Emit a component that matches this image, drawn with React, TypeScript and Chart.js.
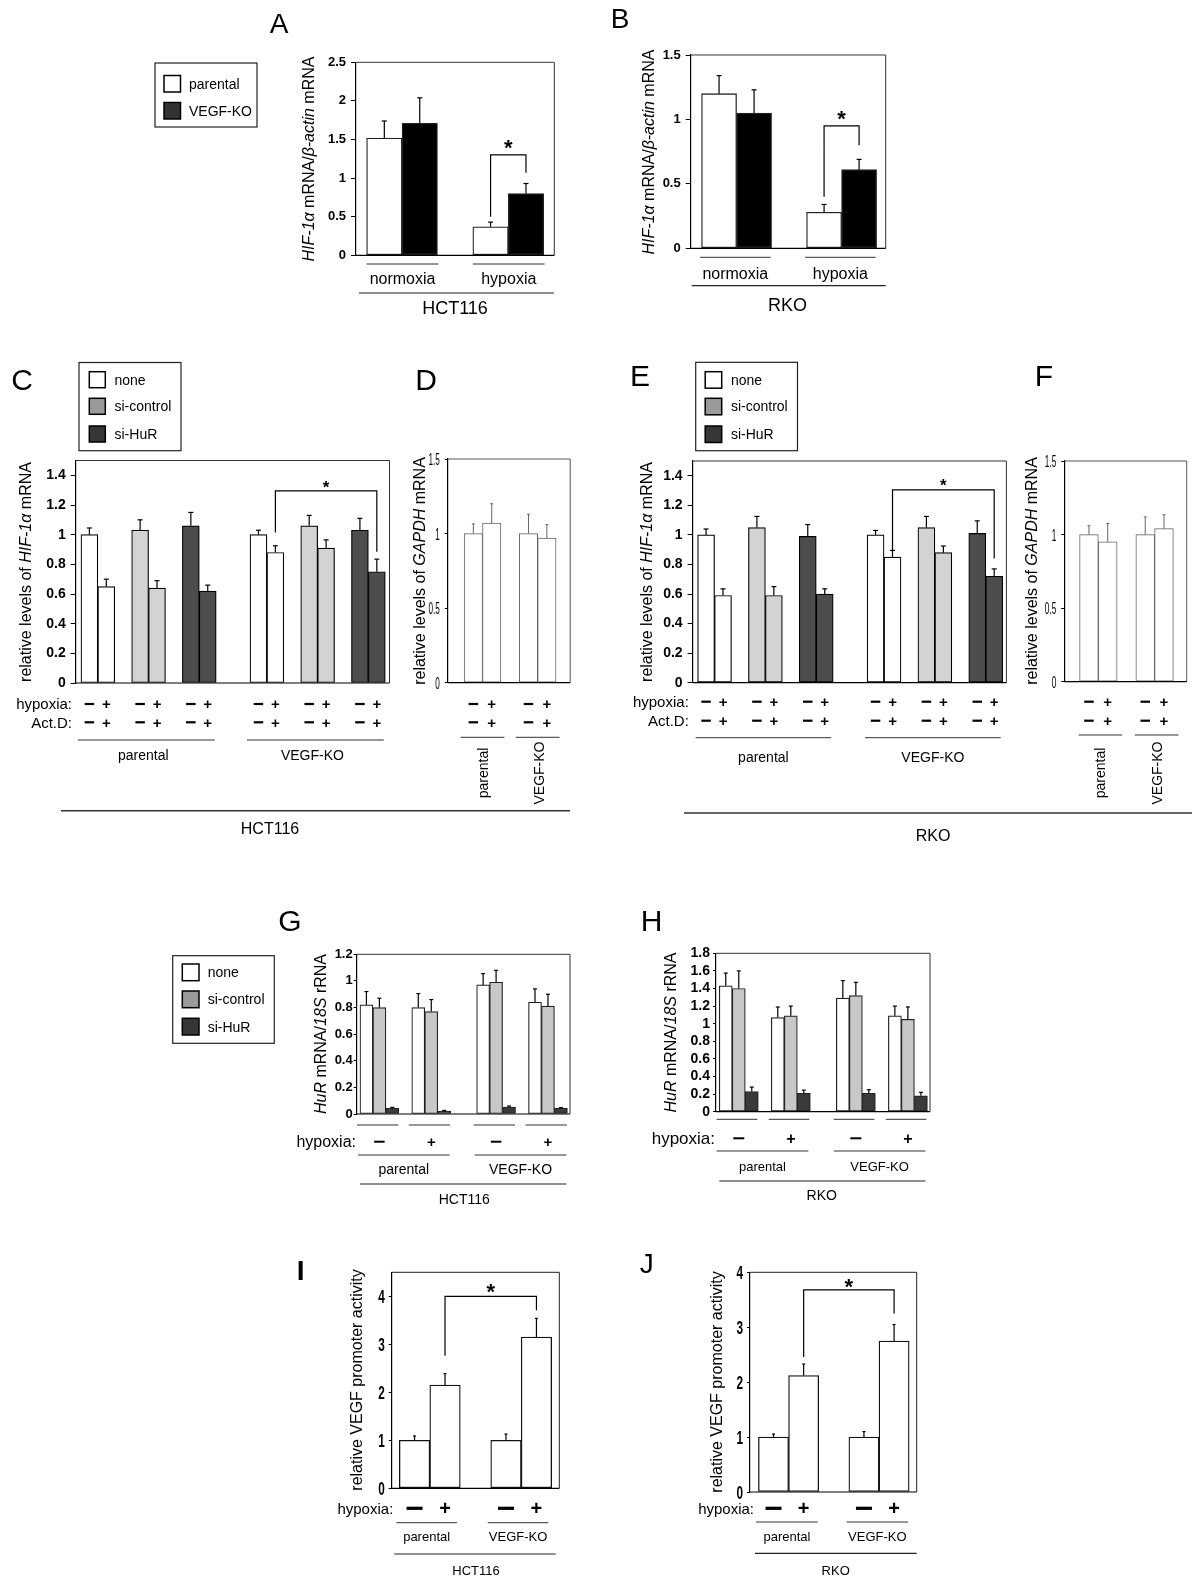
import React, { useEffect, useRef } from 'react';
import { Chart, registerables } from 'chart.js';

Chart.register(...registerables);

const FONT = '"Liberation Sans", Arial, Helvetica, sans-serif';

// ================= DATA =================
const CELL_LINES = ['parental', 'VEGF-KO'];
const OXYGEN = ['normoxia', 'hypoxia'];
const TREATMENTS = ['none', 'si-control', 'si-HuR'];

// A (HCT116) and B (RKO): order normoxia-parental, normoxia-KO, hypoxia-parental, hypoxia-KO
const A_VALUES = [1.52, 1.71, 0.37, 0.8];
const A_SEM = [0.22, 0.33, 0.06, 0.13];
const B_VALUES = [1.2, 1.05, 0.28, 0.61];
const B_SEM = [0.14, 0.18, 0.06, 0.08];
const AB_CELL = ['parental', 'VEGF-KO', 'parental', 'VEGF-KO'];

// C (HCT116) and E (RKO): HIF-1a mRNA after Act.D
const CE_TREAT = ['none', 'none', 'si-control', 'si-control', 'si-HuR', 'si-HuR', 'none', 'none', 'si-control', 'si-control', 'si-HuR', 'si-HuR'];
const CE_HYPOXIA = ['-', '+', '-', '+', '-', '+', '-', '+', '-', '+', '-', '+'];
const CE_ACTD = ['-', '+', '-', '+', '-', '+', '-', '+', '-', '+', '-', '+'];
const C_VALUES = [1.0, 0.65, 1.03, 0.64, 1.06, 0.62, 1.0, 0.88, 1.06, 0.91, 1.03, 0.75];
const C_SEM = [0.045, 0.05, 0.07, 0.05, 0.09, 0.04, 0.03, 0.045, 0.07, 0.055, 0.08, 0.085];
const E_VALUES = [1.0, 0.59, 1.05, 0.59, 0.99, 0.6, 1.0, 0.85, 1.05, 0.88, 1.01, 0.72];
const E_SEM = [0.04, 0.045, 0.075, 0.06, 0.08, 0.035, 0.03, 0.045, 0.075, 0.045, 0.085, 0.05];

// D (HCT116) and F (RKO): GAPDH mRNA
const DF_HYPOXIA = ['-', '+', '-', '+'];
const DF_ACTD = ['-', '+', '-', '+'];
const D_VALUES = [1.0, 1.07, 1.0, 0.97];
const D_SEM = [0.065, 0.13, 0.13, 0.09];
const F_VALUES = [1.0, 0.95, 1.0, 1.04];
const F_SEM = [0.06, 0.125, 0.12, 0.095];

// G (HCT116) and H (RKO): HuR mRNA / 18S rRNA
const GH_TREAT = ['none', 'si-control', 'si-HuR', 'none', 'si-control', 'si-HuR', 'none', 'si-control', 'si-HuR', 'none', 'si-control', 'si-HuR'];
const GH_HYPOXIA = ['-', '+', '-', '+'];
const G_VALUES = [0.82, 0.8, 0.043, 0.8, 0.77, 0.022, 0.97, 0.99, 0.052, 0.84, 0.81, 0.043];
const G_SEM = [0.1, 0.07, 0.007, 0.105, 0.09, 0.005, 0.085, 0.09, 0.008, 0.1, 0.09, 0.005];
const H_VALUES = [1.43, 1.4, 0.23, 1.07, 1.09, 0.21, 1.29, 1.32, 0.21, 1.09, 1.05, 0.18];
const H_SEM = [0.145, 0.2, 0.05, 0.12, 0.11, 0.035, 0.2, 0.15, 0.04, 0.11, 0.14, 0.04];

// I (HCT116) and J (RKO): VEGF promoter activity
const IJ_HYPOXIA = ['-', '+', '-', '+'];
const I_VALUES = [1.0, 2.15, 1.0, 3.15];
const I_SEM = [0.09, 0.24, 0.13, 0.39];
const J_VALUES = [1.0, 2.12, 1.0, 2.75];
const J_SEM = [0.055, 0.21, 0.1, 0.3];

// ================= STYLE =================
const AB_FILL: Record<string, string> = { parental: '#ffffff', 'VEGF-KO': '#000000' };
const AB_SWATCH: Record<string, string> = { parental: '#ffffff', 'VEGF-KO': '#333333' };
const CE_FILL: Record<string, string> = { none: '#ffffff', 'si-control': '#d3d3d3', 'si-HuR': '#4d4d4d' };
const GH_FILL: Record<string, string> = { none: '#ffffff', 'si-control': '#c8c8c8', 'si-HuR': '#3a3a3a' };
const SWATCH3: Record<string, string> = { none: '#ffffff', 'si-control': '#9a9a9a', 'si-HuR': '#363636' };

function slotPositions(groups: number[][], innerGap: number, outerGap: number): number[] {
  const out: number[] = [];
  let cur = 0;
  groups.forEach((cluster, gi) => {
    if (gi > 0) cur += outerGap;
    cluster.forEach((n, ci) => {
      if (ci > 0) cur += innerGap;
      for (let k = 0; k < n; k++) out.push(cur++);
    });
  });
  return out;
}

const POS_PAIRS = slotPositions([[2], [2]], 1, 1);
const POS_CE = slotPositions([[2, 2, 2], [2, 2, 2]], 1, 2);
const POS_GH = slotPositions([[3, 3], [3, 3]], 1, 2);

const fmtTick = (v: number) => String(Math.round(Number(v) * 1000) / 1000);

// ================= DRAW HELPERS =================
type Ctx = CanvasRenderingContext2D;

function line(ctx: Ctx, x1: number, y1: number, x2: number, y2: number, w = 1, c = '#000') {
  ctx.beginPath();
  ctx.strokeStyle = c;
  ctx.lineWidth = w;
  ctx.moveTo(x1, y1);
  ctx.lineTo(x2, y2);
  ctx.stroke();
}

function text(ctx: Ctx, s: string, x: number, y: number, size: number, o: any = {}) {
  ctx.font = `${o.italic ? 'italic ' : ''}${o.bold ? 'bold ' : ''}${size}px ${FONT}`;
  ctx.fillStyle = o.color || '#000';
  ctx.textAlign = o.align || 'center';
  ctx.textBaseline = 'alphabetic';
  ctx.fillText(s, x, y + size * 0.35);
}

function rich(ctx: Ctx, segs: [string, boolean][], x: number, y: number, size: number, rotate = true) {
  ctx.save();
  ctx.translate(x, y);
  if (rotate) ctx.rotate(-Math.PI / 2);
  const fonts = segs.map(([, it]) => `${it ? 'italic ' : ''}${size}px ${FONT}`);
  let total = 0;
  const widths = segs.map(([t], i) => {
    ctx.font = fonts[i];
    const w = ctx.measureText(t).width;
    total += w;
    return w;
  });
  let cur = -total / 2;
  ctx.fillStyle = '#000';
  ctx.textAlign = 'left';
  ctx.textBaseline = 'alphabetic';
  segs.forEach(([t], i) => {
    ctx.font = fonts[i];
    ctx.fillText(t, cur, size * 0.35);
    cur += widths[i];
  });
  ctx.restore();
}

function sign(ctx: Ctx, s: string, x: number, y: number, dashW: number, dashT: number, plusSize: number) {
  if (s === '-') {
    ctx.fillStyle = '#000';
    ctx.fillRect(x - dashW / 2, y - dashT / 2, dashW, dashT);
  } else {
    text(ctx, '+', x, y, plusSize, { bold: true });
  }
}

function bracket(ctx: Ctx, x1: number, x2: number, yTop: number, y1: number, y2: number, starY: number, starSize: number) {
  ctx.beginPath();
  ctx.strokeStyle = '#000';
  ctx.lineWidth = 1.2;
  ctx.moveTo(x1, y1);
  ctx.lineTo(x1, yTop);
  ctx.lineTo(x2, yTop);
  ctx.lineTo(x2, y2);
  ctx.stroke();
  ctx.font = `bold ${starSize}px ${FONT}`;
  ctx.fillStyle = '#000';
  ctx.textAlign = 'center';
  ctx.textBaseline = 'alphabetic';
  ctx.fillText('*', (x1 + x2) / 2, starY + starSize * 0.57);
}

function legend(ctx: Ctx, box: number[], labels: string[], fills: string[], swX: number, sw: number, rows: number[], textX: number, size: number) {
  ctx.lineWidth = 1.2;
  ctx.strokeStyle = '#222';
  ctx.strokeRect(box[0], box[1], box[2] - box[0], box[3] - box[1]);
  labels.forEach((lab, i) => {
    ctx.fillStyle = fills[i];
    ctx.fillRect(swX, rows[i], sw, sw);
    ctx.lineWidth = 1.5;
    ctx.strokeStyle = '#000';
    ctx.strokeRect(swX, rows[i], sw, sw);
    text(ctx, lab, textX, rows[i] + sw / 2, size, { align: 'left' });
  });
}

type Helpers = { ctx: Ctx; px: (v: number) => number; py: (v: number) => number; pos: number[] };

type Spec = {
  key: string;
  cx: number; cy: number; cw: number; ch: number;
  area: number[];
  xRange: number[];
  yMax: number; yStep: number;
  tickFont: any;
  tickLen: number; tickPad: number;
  narrow?: { size: number; bold: boolean; sx: number };
  positions: number[]; values: number[]; sem: number[]; colors: string[];
  borderColor: string; borderWidth: number;
  errColor: string; errWidth: number; cap: number;
  frameColor: string;
  extras: (h: Helpers) => void;
};

// ================= PANELS =================
const SPECS: Spec[] = [
  {
    key: 'A', cx: 140, cy: 0, cw: 450, ch: 330,
    area: [356, 62.3, 554.3, 255.3], xRange: [-0.8, 4.8], yMax: 2.5, yStep: 0.5,
    tickFont: { family: FONT, size: 13, weight: 'bold' }, tickLen: 5, tickPad: 5,
    positions: POS_PAIRS, values: A_VALUES, sem: A_SEM, colors: AB_CELL.map((c) => AB_FILL[c]),
    borderColor: '#222', borderWidth: 1.3, errColor: '#000', errWidth: 1.2, cap: 5, frameColor: '#333',
    extras: ({ ctx, px, py, pos }) => {
      rich(ctx, [['HIF-1\u03b1', true], [' mRNA/', false], ['\u03b2-actin', true], [' mRNA', false]], 308, 159, 16);
      bracket(ctx, px(pos[2]), px(pos[3]), py(1.3), py(0.5), py(1.07), py(1.3) - 12, 22);
      OXYGEN.forEach((g, k) => {
        const x1 = px(pos[2 * k] - 0.5), x2 = px(pos[2 * k + 1] + 0.5) + 1;
        line(ctx, x1, 264, x2, 264, 1, '#333');
        text(ctx, g, (x1 + x2) / 2, 278.5, 16);
      });
      line(ctx, 359, 293, 554, 293, 1.2, '#222');
      text(ctx, 'HCT116', 455, 308, 18);
      legend(ctx, [155, 63, 257, 127], CELL_LINES, CELL_LINES.map((c) => AB_SWATCH[c]), 164, 16.5, [75.5, 102.5], 189, 14);
      text(ctx, 'A', 279, 23, 28);
    },
  },
  {
    key: 'B', cx: 600, cy: 0, cw: 300, ch: 330,
    area: [690.7, 55, 885.7, 248.3], xRange: [-0.81, 4.76], yMax: 1.5, yStep: 0.5,
    tickFont: { family: FONT, size: 13, weight: 'bold' }, tickLen: 5, tickPad: 5,
    positions: POS_PAIRS, values: B_VALUES, sem: B_SEM, colors: AB_CELL.map((c) => AB_FILL[c]),
    borderColor: '#222', borderWidth: 1.3, errColor: '#000', errWidth: 1.2, cap: 5, frameColor: '#333',
    extras: ({ ctx, px, py, pos }) => {
      rich(ctx, [['HIF-1\u03b1', true], [' mRNA/', false], ['\u03b2-actin', true], [' mRNA', false]], 648, 152, 16);
      bracket(ctx, px(pos[2]), px(pos[3]), py(0.95), py(0.4), py(0.8), py(0.95) - 12.6, 22);
      OXYGEN.forEach((g, k) => {
        const x1 = px(pos[2 * k] - 0.5) - 1.5, x2 = px(pos[2 * k + 1] + 0.5) - 1;
        line(ctx, x1, 257.3, x2, 257.3, 1, '#333');
        text(ctx, g, (x1 + x2) / 2, 273, 16);
      });
      line(ctx, 691.7, 285.7, 885.7, 285.7, 1.2, '#222');
      text(ctx, 'RKO', 787.5, 305, 18);
      text(ctx, 'B', 620, 18, 28);
    },
  },
  {
    key: 'C', cx: 0, cy: 340, cw: 600, ch: 510,
    area: [75.7, 460.5, 389.5, 683], xRange: [-0.81, 17.75], yMax: 1.5, yStep: 0.2,
    tickFont: { family: FONT, size: 14, weight: 'bold' }, tickLen: 5, tickPad: 5,
    positions: POS_CE, values: C_VALUES, sem: C_SEM, colors: CE_TREAT.map((t) => CE_FILL[t]),
    borderColor: '#000', borderWidth: 1.2, errColor: '#000', errWidth: 1.2, cap: 5, frameColor: '#333',
    extras: ({ ctx, px, py, pos }) => {
      rich(ctx, [['relative levels of ', false], ['HIF-1\u03b1', true], [' mRNA', false]], 25, 572, 16);
      CE_HYPOXIA.forEach((s, i) => sign(ctx, s, px(pos[i]), 704, 9.5, 2.2, 15));
      CE_ACTD.forEach((s, i) => sign(ctx, s, px(pos[i]), 722.3, 9.5, 2.2, 15));
      text(ctx, 'hypoxia:', 72, 704, 15, { align: 'right' });
      text(ctx, 'Act.D:', 72, 722.3, 15, { align: 'right' });
      CELL_LINES.forEach((c, k) => {
        const x1 = px(pos[6 * k] - 0.5) - 3, x2 = px(pos[6 * k + 5] + 0.5) - 1.5;
        line(ctx, x1, 740, x2, 740, 1, '#333');
        text(ctx, c, (x1 + x2) / 2 - 3, 755, 14);
      });
      line(ctx, 61, 810.7, 570, 810.7, 1.5, '#333');
      text(ctx, 'HCT116', 270, 828, 16);
      bracket(ctx, px(pos[7]), px(pos[11]), py(1.295), py(1.015), py(0.884), py(1.295) - 8, 17);
      legend(ctx, [79, 362.5, 181, 450.7], TREATMENTS, TREATMENTS.map((t) => SWATCH3[t]), 89.3, 16, [371.7, 398.3, 426], 114.5, 14);
      text(ctx, 'C', 22, 379, 30);
    },
  },
  {
    key: 'D', cx: 400, cy: 340, cw: 200, ch: 500,
    area: [447.8, 459, 570.2, 682.7], xRange: [-1.39, 5.27], yMax: 1.5, yStep: 0.5,
    tickFont: { family: FONT, size: 14 }, tickLen: 3, tickPad: 5,
    narrow: { size: 17, bold: false, sx: 0.48 },
    positions: POS_PAIRS, values: D_VALUES, sem: D_SEM, colors: D_VALUES.map(() => '#ffffff'),
    borderColor: '#666', borderWidth: 1, errColor: '#666', errWidth: 1, cap: 3, frameColor: '#555',
    extras: ({ ctx, px, pos }) => {
      rich(ctx, [['relative levels of ', false], ['GAPDH', true], [' mRNA', false]], 419.8, 571, 16);
      DF_HYPOXIA.forEach((s, i) => sign(ctx, s, px(pos[i]), 704, 9.5, 2.2, 15));
      DF_ACTD.forEach((s, i) => sign(ctx, s, px(pos[i]), 722.3, 9.5, 2.2, 15));
      CELL_LINES.forEach((c, k) => {
        const x1 = px(pos[2 * k] - 0.5) - 3.5, x2 = px(pos[2 * k + 1] + 0.5) + 3.5;
        line(ctx, x1, 737.3, x2, 737.3, 1, '#333');
        rich(ctx, [[c, false]], (x1 + x2) / 2 + 1, 773, 14);
      });
      text(ctx, 'D', 426, 379, 30);
    },
  },
  {
    key: 'E', cx: 600, cy: 340, cw: 600, ch: 510,
    area: [692.6, 461, 1006.4, 682.7], xRange: [-0.795, 17.72], yMax: 1.5, yStep: 0.2,
    tickFont: { family: FONT, size: 14, weight: 'bold' }, tickLen: 5, tickPad: 5,
    positions: POS_CE, values: E_VALUES, sem: E_SEM, colors: CE_TREAT.map((t) => CE_FILL[t]),
    borderColor: '#000', borderWidth: 1.2, errColor: '#000', errWidth: 1.2, cap: 5, frameColor: '#333',
    extras: ({ ctx, px, py, pos }) => {
      rich(ctx, [['relative levels of ', false], ['HIF-1\u03b1', true], [' mRNA', false]], 646, 572, 16);
      CE_HYPOXIA.forEach((s, i) => sign(ctx, s, px(pos[i]), 701.7, 9.5, 2.2, 15));
      CE_ACTD.forEach((s, i) => sign(ctx, s, px(pos[i]), 720.7, 9.5, 2.2, 15));
      text(ctx, 'hypoxia:', 688.8, 701.7, 15, { align: 'right' });
      text(ctx, 'Act.D:', 688.8, 720.7, 15, { align: 'right' });
      CELL_LINES.forEach((c, k) => {
        const x1 = px(pos[6 * k] - 0.5) - 2, x2 = px(pos[6 * k + 5] + 0.5) - 2;
        line(ctx, x1, 737.7, x2, 737.7, 1, '#333');
        text(ctx, c, (x1 + x2) / 2, 756.7, 14);
      });
      line(ctx, 684, 813, 1192, 813, 1.5, '#333');
      text(ctx, 'RKO', 933, 835, 16);
      bracket(ctx, px(pos[7]), px(pos[11]), py(1.305), py(0.886), py(0.84), py(1.305) - 9, 17);
      legend(ctx, [695.7, 362.3, 797.5, 450.7], TREATMENTS, TREATMENTS.map((t) => SWATCH3[t]), 705.2, 16.5, [371.7, 398.3, 426], 730.9, 14);
      text(ctx, 'E', 640, 375, 30);
    },
  },
  {
    key: 'F', cx: 1000, cy: 340, cw: 200, ch: 500,
    area: [1064.2, 461, 1186.7, 681.7], xRange: [-1.32, 5.21], yMax: 1.5, yStep: 0.5,
    tickFont: { family: FONT, size: 14 }, tickLen: 3, tickPad: 5,
    narrow: { size: 17, bold: false, sx: 0.48 },
    positions: POS_PAIRS, values: F_VALUES, sem: F_SEM, colors: F_VALUES.map(() => '#ffffff'),
    borderColor: '#666', borderWidth: 1, errColor: '#666', errWidth: 1, cap: 3, frameColor: '#555',
    extras: ({ ctx, px, pos }) => {
      rich(ctx, [['relative levels of ', false], ['GAPDH', true], [' mRNA', false]], 1031.3, 571, 16);
      DF_HYPOXIA.forEach((s, i) => sign(ctx, s, px(pos[i]), 701.7, 9.5, 2.2, 15));
      DF_ACTD.forEach((s, i) => sign(ctx, s, px(pos[i]), 720.7, 9.5, 2.2, 15));
      CELL_LINES.forEach((c, k) => {
        const x1 = px(pos[2 * k] - 0.5) - 1, x2 = px(pos[2 * k + 1] + 0.5) + 5;
        line(ctx, x1, 735, x2, 735, 1, '#333');
        rich(ctx, [[c, false]], (x1 + x2) / 2, 773, 14);
      });
      text(ctx, 'F', 1044, 375, 30);
    },
  },
  {
    key: 'G', cx: 150, cy: 880, cw: 450, ch: 340,
    area: [356.7, 954.3, 570, 1114], xRange: [-0.75, 15.7], yMax: 1.2, yStep: 0.2,
    tickFont: { family: FONT, size: 13, weight: 'bold' }, tickLen: 3, tickPad: 1,
    positions: POS_GH, values: G_VALUES, sem: G_SEM, colors: GH_TREAT.map((t) => GH_FILL[t]),
    borderColor: '#222', borderWidth: 1.2, errColor: '#000', errWidth: 1.2, cap: 4, frameColor: '#333',
    extras: ({ ctx, px, pos }) => {
      rich(ctx, [['HuR', true], [' mRNA/', false], ['18S', true], [' rRNA', false]], 320, 1034, 16);
      GH_HYPOXIA.forEach((s, k) => {
        const x1 = px(pos[3 * k] - 0.5) - 3, x2 = px(pos[3 * k + 2] + 0.5) - 0.5;
        line(ctx, x1, 1125, x2, 1125, 1, '#333');
        sign(ctx, s, px(pos[3 * k + 1]), 1141.7, 10.5, 2, 15);
      });
      text(ctx, 'hypoxia:', 356, 1141.7, 16, { align: 'right' });
      CELL_LINES.forEach((c, k) => {
        const x1 = px(pos[6 * k] - 0.5) - 2, x2 = px(pos[6 * k + 5] + 0.5) - 1;
        line(ctx, x1, 1155, x2, 1155, 1, '#333');
        text(ctx, c, (x1 + x2) / 2, 1169.3, 14);
      });
      line(ctx, px(pos[0] - 0.5), 1184, px(pos[11] + 0.5) - 1, 1184, 1.2, '#222');
      text(ctx, 'HCT116', 464.3, 1199, 14);
      legend(ctx, [172.7, 955.7, 274.3, 1043.3], TREATMENTS, TREATMENTS.map((t) => SWATCH3[t]), 182.3, 16.7, [964, 991, 1018.3], 207.7, 14);
      text(ctx, 'G', 290, 920, 30);
    },
  },
  {
    key: 'H', cx: 600, cy: 880, cw: 360, ch: 340,
    area: [716, 953.3, 930, 1111.7], xRange: [-0.75, 15.7], yMax: 1.8, yStep: 0.2,
    tickFont: { family: FONT, size: 14, weight: 'bold' }, tickLen: 3, tickPad: 3,
    positions: POS_GH, values: H_VALUES, sem: H_SEM, colors: GH_TREAT.map((t) => GH_FILL[t]),
    borderColor: '#222', borderWidth: 1.2, errColor: '#000', errWidth: 1.2, cap: 4, frameColor: '#333',
    extras: ({ ctx, px, pos }) => {
      rich(ctx, [['HuR', true], [' mRNA/', false], ['18S', true], [' rRNA', false]], 670, 1032.5, 16);
      GH_HYPOXIA.forEach((s, k) => {
        const x1 = px(pos[3 * k] - 0.5) - 2.6, x2 = px(pos[3 * k + 2] + 0.5) - 1;
        line(ctx, x1, 1119.3, x2, 1119.3, 1, '#333');
        sign(ctx, s, px(pos[3 * k + 1]), 1138.3, 11, 2, 16);
      });
      text(ctx, 'hypoxia:', 715, 1138.3, 17, { align: 'right' });
      CELL_LINES.forEach((c, k) => {
        const x1 = px(pos[6 * k] - 0.5) - 2.6, x2 = px(pos[6 * k + 5] + 0.5) - 2;
        line(ctx, x1, 1151, x2, 1151, 1, '#333');
        text(ctx, c, (x1 + x2) / 2, 1166.7, 13);
      });
      line(ctx, px(pos[0] - 0.5), 1181, px(pos[11] + 0.5) - 2, 1181, 1.2, '#222');
      text(ctx, 'RKO', 821.7, 1195, 14);
      text(ctx, 'H', 651.7, 920, 30);
    },
  },
  {
    key: 'I', cx: 260, cy: 1230, cw: 340, ch: 349,
    area: [391.7, 1272.3, 559.3, 1488.3], xRange: [-0.75, 4.75], yMax: 4.5, yStep: 1,
    tickFont: { family: FONT, size: 15, weight: 'bold' }, tickLen: 3, tickPad: 4,
    narrow: { size: 19, bold: true, sx: 0.62 },
    positions: POS_PAIRS, values: I_VALUES, sem: I_SEM, colors: I_VALUES.map(() => '#ffffff'),
    borderColor: '#111', borderWidth: 1.3, errColor: '#000', errWidth: 1.2, cap: 3, frameColor: '#222',
    extras: ({ ctx, px, py, pos }) => {
      rich(ctx, [['relative VEGF promoter activity', false]], 356.7, 1380, 16);
      bracket(ctx, px(pos[1]), px(pos[3]), py(4.0), py(2.76), py(3.71), py(4.0) - 10, 22);
      IJ_HYPOXIA.forEach((s, i) => sign(ctx, s, px(pos[i]), 1508.3, 16, 3.2, 20));
      text(ctx, 'hypoxia:', 393.3, 1508.3, 15, { align: 'right' });
      CELL_LINES.forEach((c, k) => {
        const x1 = px(pos[2 * k] - 0.5) - 3, x2 = px(pos[2 * k + 1] + 0.5) - 3.3;
        line(ctx, x1, 1522.7, x2, 1522.7, 1, '#333');
        text(ctx, c, (x1 + x2) / 2, 1536.7, 13);
      });
      line(ctx, 394.3, 1554, 555.7, 1554, 1.2, '#222');
      text(ctx, 'HCT116', 476, 1570, 13);
      text(ctx, 'I', 300.7, 1270, 28, { bold: true });
    },
  },
  {
    key: 'J', cx: 620, cy: 1230, cw: 340, ch: 349,
    area: [750, 1272.3, 916.7, 1492], xRange: [-0.78, 4.75], yMax: 4, yStep: 1,
    tickFont: { family: FONT, size: 15, weight: 'bold' }, tickLen: 3, tickPad: 4,
    narrow: { size: 19, bold: true, sx: 0.62 },
    positions: POS_PAIRS, values: J_VALUES, sem: J_SEM, colors: J_VALUES.map(() => '#ffffff'),
    borderColor: '#111', borderWidth: 1.3, errColor: '#000', errWidth: 1.2, cap: 3, frameColor: '#222',
    extras: ({ ctx, px, py, pos }) => {
      rich(ctx, [['relative VEGF promoter activity', false]], 716, 1382, 16);
      bracket(ctx, px(pos[1]), px(pos[3]), py(3.68), py(2.46), py(3.25), py(3.68) - 8.5, 22);
      IJ_HYPOXIA.forEach((s, i) => sign(ctx, s, px(pos[i]), 1508.3, 16, 3.2, 20));
      text(ctx, 'hypoxia:', 754, 1508.3, 15, { align: 'right' });
      CELL_LINES.forEach((c, k) => {
        const x1 = px(pos[2 * k] - 0.5) - 2.3, x2 = px(pos[2 * k + 1] + 0.5) - 1;
        line(ctx, x1, 1522, x2, 1522, 1, '#333');
        text(ctx, c, (x1 + x2) / 2, 1536.7, 13);
      });
      line(ctx, 755, 1553.3, 916.7, 1553.3, 1.2, '#222');
      text(ctx, 'RKO', 835.7, 1570, 13);
      text(ctx, 'J', 646.7, 1263, 28);
    },
  },
];

function makeConfig(s: Spec): any {
  const [l, t, r, b] = s.area;
  const extrasPlugin = {
    id: 'extras' + s.key,
    afterDatasetsDraw(chart: any) {
      const ctx: Ctx = chart.ctx;
      const xs = chart.scales.x;
      const ys = chart.scales.y;
      const h: Helpers = {
        ctx,
        pos: s.positions,
        px: (v: number) => xs.getPixelForValue(v) + s.cx,
        py: (v: number) => ys.getPixelForValue(v) + s.cy,
      };
      ctx.save();
      ctx.translate(-s.cx, -s.cy);
      line(ctx, l, t, r, t, 1, s.frameColor);
      line(ctx, r, t, r, b, 1, s.frameColor);
      line(ctx, l, b, r, b, 1.2, '#000');
      // condensed tick labels
      if (s.narrow) {
        const n = s.narrow;
        ys.ticks.forEach((tk: any) => {
          const y = ys.getPixelForValue(tk.value) + s.cy;
          ctx.save();
          ctx.translate(l - s.tickLen - s.tickPad, y);
          ctx.scale(n.sx, 1);
          ctx.font = `${n.bold ? 'bold ' : ''}${n.size}px ${FONT}`;
          ctx.fillStyle = '#000';
          ctx.textAlign = 'right';
          ctx.textBaseline = 'alphabetic';
          ctx.fillText(fmtTick(tk.value), 0, n.size * 0.36);
          ctx.restore();
        });
      }
      s.values.forEach((v, i) => {
        const x = h.px(s.positions[i]);
        const y0 = h.py(v);
        const y1 = h.py(v + s.sem[i]);
        line(ctx, x, y0, x, y1, s.errWidth, s.errColor);
        line(ctx, x - s.cap / 2, y1, x + s.cap / 2, y1, s.errWidth, s.errColor);
      });
      s.extras(h);
      ctx.restore();
    },
  };
  return {
    type: 'bar',
    data: {
      datasets: [
        {
          data: s.positions.map((x, i) => ({ x, y: s.values[i] })),
          backgroundColor: s.colors,
          borderColor: s.borderColor,
          borderWidth: s.borderWidth,
          borderSkipped: false,
          categoryPercentage: 1,
          barPercentage: 1,
        },
      ],
    },
    options: {
      responsive: false,
      maintainAspectRatio: false,
      animation: false,
      devicePixelRatio: 1,
      events: [],
      layout: { padding: { left: 0, top: t - s.cy, right: s.cx + s.cw - r, bottom: s.cy + s.ch - b } },
      plugins: { legend: { display: false }, tooltip: { enabled: false }, title: { display: false } },
      scales: {
        x: {
          type: 'linear', display: false, min: s.xRange[0], max: s.xRange[1], offset: false,
          ticks: { stepSize: 1, includeBounds: false }, grid: { display: false },
        },
        y: {
          type: 'linear', position: 'left', min: 0, max: s.yMax,
          border: { display: true, color: '#000', width: 1.2 },
          grid: { display: true, drawOnChartArea: false, drawTicks: true, tickLength: s.tickLen, color: '#000', lineWidth: 1 },
          ticks: {
            display: !s.narrow,
            stepSize: s.yStep,
            includeBounds: false,
            autoSkip: false,
            color: '#000',
            padding: s.tickPad,
            font: s.tickFont,
            callback: (v: number) => fmtTick(v),
          },
          afterFit: (sc: any) => {
            sc.width = l - s.cx;
          },
        },
      },
    },
    plugins: [extrasPlugin],
  };
}

function Panel({ spec }: { spec: Spec }) {
  const ref = useRef<HTMLCanvasElement>(null);
  useEffect(() => {
    const chart = new Chart(ref.current as HTMLCanvasElement, makeConfig(spec));
    return () => chart.destroy();
  }, [spec]);
  return (
    <canvas
      ref={ref}
      width={spec.cw}
      height={spec.ch}
      style={{ position: 'absolute', left: spec.cx, top: spec.cy, width: spec.cw, height: spec.ch }}
    />
  );
}

export default function App() {
  return (
    <div style={{ position: 'absolute', left: 0, top: 0, width: 1200, height: 1579, background: '#ffffff', overflow: 'hidden' }}>
      {SPECS.map((s) => (
        <Panel key={s.key} spec={s} />
      ))}
    </div>
  );
}
